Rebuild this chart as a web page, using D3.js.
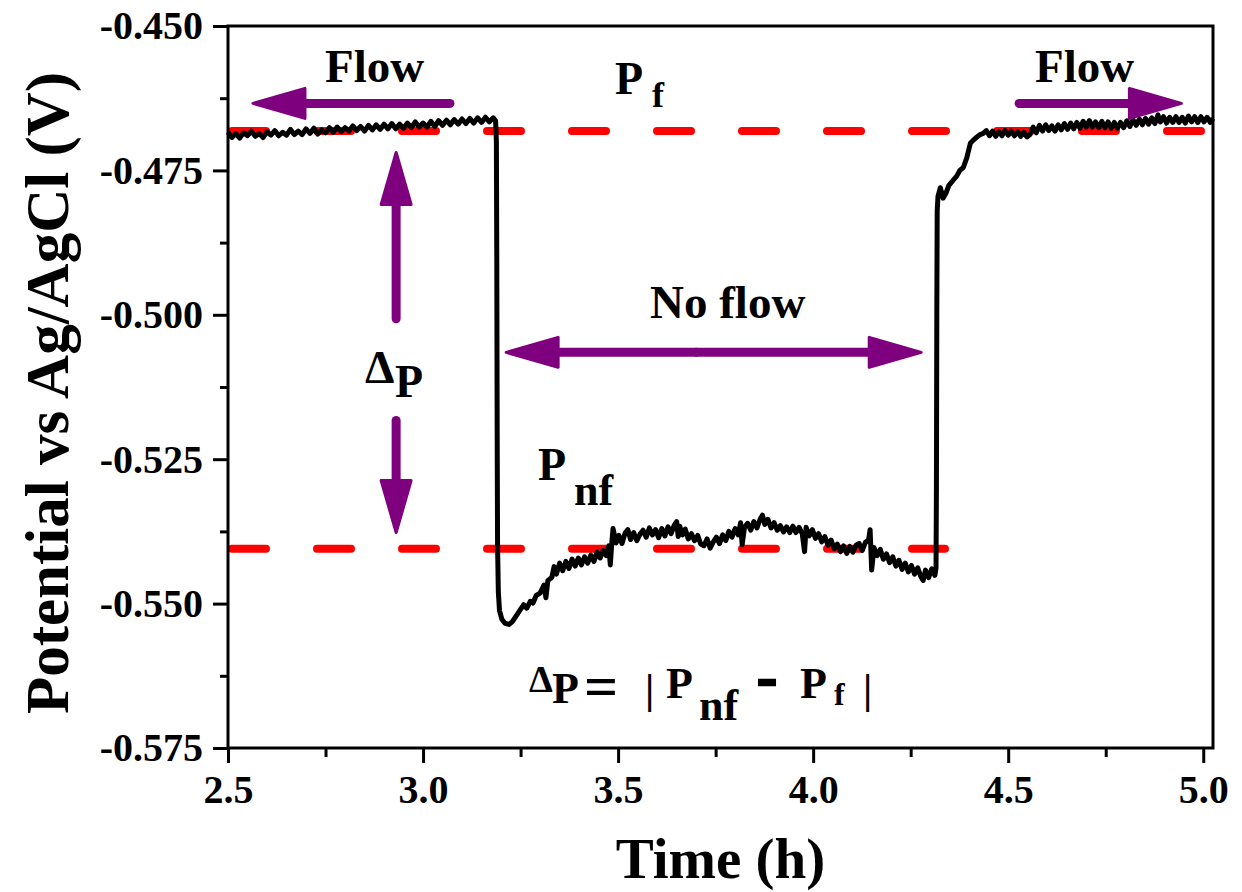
<!DOCTYPE html>
<html>
<head>
<meta charset="utf-8">
<script src="https://cdn.jsdelivr.net/npm/d3@7"></script>
<style>
  body { margin: 0; background: #fff; }
  svg { display: block; }
  text { font-family: "Liberation Serif", "Times New Roman", serif; font-weight: bold; fill: #000; }
</style>
</head>
<body>
<svg id="chart" width="1242" height="892"></svg>
<script>
// time (h) and potential (V)
const flowTime = [2.500,2.510,2.520,2.530,2.540,2.550,2.560,2.570,2.580,2.590,2.600,2.610,2.620,2.630,2.640,2.650,2.660,2.670,2.680,2.690,
  2.700,2.710,2.720,2.730,2.740,2.750,2.760,2.770,2.780,2.790,2.800,2.810,2.820,2.830,2.840,2.850,2.860,2.870,2.880,2.890,
  2.900,2.910,2.920,2.930,2.940,2.950,2.960,2.970,2.980,2.990,3.000,3.010,3.020,3.030,3.040,3.050,3.060,3.070,3.080,3.090,
  3.100,3.110,3.120,3.130,3.140,3.150,3.160,3.170,3.180,3.186];
const flowPotential = [-0.4684,-0.4693,-0.4686,-0.4694,-0.4685,-0.4690,-0.4682,-0.4691,-0.4686,-0.4693,-0.4683,-0.4689,-0.4681,-0.4690,-0.4684,-0.4689,-0.4679,-0.4688,-0.4682,-0.4688,
  -0.4678,-0.4686,-0.4677,-0.4687,-0.4680,-0.4685,-0.4676,-0.4684,-0.4675,-0.4683,-0.4676,-0.4682,-0.4673,-0.4681,-0.4674,-0.4682,-0.4672,-0.4680,-0.4671,-0.4679,
  -0.4670,-0.4678,-0.4669,-0.4678,-0.4670,-0.4677,-0.4668,-0.4676,-0.4666,-0.4675,-0.4668,-0.4675,-0.4665,-0.4674,-0.4664,-0.4672,-0.4663,-0.4671,-0.4662,-0.4670,
  -0.4661,-0.4669,-0.4660,-0.4668,-0.4659,-0.4667,-0.4658,-0.4666,-0.4659,-0.4664];

const noFlowTime = [3.188,3.189,3.190,3.191,3.193,3.196,3.202,3.210,3.220,3.228,3.238,3.249,3.258,3.266,3.275,3.282,3.290,
  3.300,3.310,3.315,3.320,3.330,3.336,3.342,3.350,3.358,3.366,3.374,3.382,3.390,3.398,3.406,3.414,3.422,3.430,3.438,3.446,
  3.454,3.462,3.470,3.476,3.480,3.484,3.487,3.495,3.502,3.510,3.518,3.525,3.532,3.540,3.548,3.556,3.564,3.572,3.580,3.588,
  3.596,3.604,3.612,3.620,3.628,3.636,3.644,3.650,3.654,3.658,3.665,3.672,3.680,3.688,3.696,3.704,3.712,3.720,3.728,3.736,
  3.744,3.752,3.760,3.768,3.776,3.784,3.792,3.800,3.808,3.814,3.818,3.824,3.832,3.840,3.848,3.856,3.864,3.870,3.876,3.884,
  3.892,3.900,3.908,3.916,3.924,3.932,3.940,3.948,3.956,3.964,3.972,3.978,3.982,3.990,3.998,4.006,4.014,4.022,4.030,4.038,
  4.046,4.054,4.062,4.070,4.078,4.086,4.094,4.102,4.110,4.118,4.126,4.134,4.142,4.146,4.150,4.156,4.164,4.172,4.180,4.188,
  4.196,4.204,4.212,4.220,4.228,4.236,4.244,4.252,4.260,4.268,4.276,4.282,4.288,4.296,4.304,4.312,4.315];
const noFlowPotential = [-0.4700,-0.4900,-0.5200,-0.5400,-0.5480,-0.5512,-0.5527,-0.5534,-0.5536,-0.5532,-0.5522,-0.5511,-0.5502,-0.5508,-0.5496,-0.5499,-0.5486,
  -0.5482,-0.5468,-0.5490,-0.5460,-0.5455,-0.5436,-0.5449,-0.5430,-0.5443,-0.5427,-0.5439,-0.5423,-0.5435,-0.5421,-0.5433,-0.5419,-0.5430,-0.5416,-0.5427,-0.5411,
  -0.5421,-0.5408,-0.5417,-0.5400,-0.5433,-0.5394,-0.5370,-0.5395,-0.5382,-0.5396,-0.5378,-0.5372,-0.5389,-0.5377,-0.5391,-0.5380,-0.5373,-0.5385,-0.5369,-0.5381,
  -0.5372,-0.5386,-0.5370,-0.5383,-0.5367,-0.5379,-0.5364,-0.5358,-0.5384,-0.5366,-0.5381,-0.5371,-0.5388,-0.5379,-0.5391,-0.5382,-0.5397,-0.5400,-0.5388,-0.5404,
  -0.5393,-0.5385,-0.5396,-0.5381,-0.5391,-0.5375,-0.5385,-0.5370,-0.5381,-0.5360,-0.5398,-0.5368,-0.5361,-0.5373,-0.5358,-0.5369,-0.5354,-0.5347,-0.5363,-0.5354,
  -0.5369,-0.5360,-0.5373,-0.5365,-0.5376,-0.5367,-0.5377,-0.5366,-0.5377,-0.5368,-0.5379,-0.5410,-0.5368,-0.5383,-0.5372,-0.5387,-0.5379,-0.5393,-0.5384,-0.5399,
  -0.5390,-0.5405,-0.5397,-0.5410,-0.5400,-0.5413,-0.5401,-0.5411,-0.5399,-0.5396,-0.5408,-0.5394,-0.5390,-0.5372,-0.5442,-0.5403,-0.5417,-0.5406,-0.5423,-0.5414,
  -0.5429,-0.5419,-0.5435,-0.5425,-0.5441,-0.5430,-0.5445,-0.5434,-0.5449,-0.5438,-0.5453,-0.5460,-0.5442,-0.5455,-0.5440,-0.5451,-0.5438];

const recoveryTime = [4.316,4.317,4.318,4.320,4.326,4.333,4.340,4.348,4.359,4.368,4.376,4.385,4.394,4.403,4.410,4.420,4.428,4.436,
  4.444,4.452,4.460,4.468,4.476,4.484,4.492,4.500,4.508,4.516,4.524,4.532,4.540,4.548,4.556,4.564,4.572,4.580,4.588,4.596,
  4.604,4.612,4.620,4.628,4.636,4.644,4.652,4.660,4.668,4.676,4.684,4.692,4.700,4.708,4.716,4.724,4.732,4.740,4.748,4.756,
  4.764,4.772,4.780,4.788,4.796,4.804,4.812,4.820,4.828,4.836,4.844,4.852,4.860,4.868,4.876,4.884,4.890,4.898,4.906,4.914,
  4.922,4.930,4.938,4.946,4.954,4.962,4.970,4.978,4.986,4.994,5.002,5.010,5.018,5.025];
const recoveryPotential = [-0.5300,-0.5000,-0.4820,-0.4795,-0.4780,-0.4798,-0.4790,-0.4776,-0.4767,-0.4760,-0.4750,-0.4745,-0.4728,-0.4703,-0.4698,-0.4692,-0.4688,-0.4686,
  -0.4681,-0.4690,-0.4682,-0.4691,-0.4683,-0.4690,-0.4681,-0.4689,-0.4682,-0.4690,-0.4683,-0.4691,-0.4684,-0.4692,-0.4688,-0.4675,-0.4685,-0.4672,-0.4682,-0.4671,
  -0.4681,-0.4673,-0.4682,-0.4671,-0.4680,-0.4669,-0.4679,-0.4668,-0.4678,-0.4667,-0.4677,-0.4665,-0.4675,-0.4664,-0.4675,-0.4666,-0.4676,-0.4665,-0.4676,-0.4666,
  -0.4677,-0.4667,-0.4677,-0.4667,-0.4676,-0.4664,-0.4674,-0.4662,-0.4672,-0.4661,-0.4671,-0.4660,-0.4670,-0.4659,-0.4669,-0.4654,-0.4666,-0.4657,-0.4668,-0.4658,
  -0.4667,-0.4657,-0.4667,-0.4658,-0.4668,-0.4656,-0.4666,-0.4657,-0.4667,-0.4657,-0.4666,-0.4658,-0.4667,-0.4660];

// reference levels
const pFlow = -0.4682;
const pNoFlow = -0.5405;
const pNoFlowEnd = 4.338;

const xTicks = [2.5, 3.0, 3.5, 4.0, 4.5, 5.0];
const yTicks = [-0.450, -0.475, -0.500, -0.525, -0.550, -0.575];

const margin = {top: 26, right: 29, bottom: 144, left: 228};
const width = 1242, height = 892;
const purple = "#7f007f";

const svg = d3.select("#chart");

const x = d3.scaleLinear().domain([2.5, 5.025]).range([margin.left, width - margin.right]);
const y = d3.scaleLinear().domain([-0.575, -0.450]).range([height - margin.bottom, margin.top]);

const trace = [];
[[flowTime, flowPotential], [noFlowTime, noFlowPotential], [recoveryTime, recoveryPotential]].forEach(function(seg) {
    seg[0].forEach(function(t, i) { trace.push([t, seg[1][i]]); });
});

// reference dashed lines
function refLine(level, tEnd) {
    svg.append("line")
        .attr("x1", x(2.5)).attr("x2", x(tEnd))
        .attr("y1", y(level)).attr("y2", y(level))
        .attr("stroke", "#ff0000").attr("stroke-width", 8)
        .attr("stroke-linecap", "round")
        .attr("stroke-dasharray", "34 51").attr("stroke-dashoffset", -4);
}
refLine(pFlow, 5.025);
refLine(pNoFlow, pNoFlowEnd);

// potential trace
svg.append("path")
    .datum(trace)
    .attr("fill", "none")
    .attr("stroke", "#000")
    .attr("stroke-width", 5)
    .attr("stroke-linejoin", "round")
    .attr("d", d3.line().x(d => x(d[0])).y(d => y(d[1])));

// axes
const yAxis = svg.append("g")
    .attr("transform", `translate(${margin.left},0)`)
    .call(d3.axisLeft(y).tickValues(yTicks).tickSize(15).tickSizeOuter(0).tickPadding(10).tickFormat(d => d.toFixed(3)));
svg.append("g")
    .attr("transform", `translate(${margin.left},0)`)
    .call(d3.axisLeft(y).tickValues(yTicks.slice(1).map(v => v + 0.0125)).tickSize(8).tickSizeOuter(0).tickFormat(""));
const xAxis = svg.append("g")
    .attr("transform", `translate(0,${height - margin.bottom})`)
    .call(d3.axisBottom(x).tickValues(xTicks).tickSize(15).tickSizeOuter(0).tickPadding(12).tickFormat(d3.format(".1f")));
svg.append("g")
    .attr("transform", `translate(0,${height - margin.bottom})`)
    .call(d3.axisBottom(x).tickValues(xTicks.slice(1).map(v => v - 0.25)).tickSize(9).tickSizeOuter(0).tickFormat(""));

svg.selectAll(".domain").remove();
svg.selectAll(".tick line").attr("stroke", "#000").attr("stroke-width", 3);
yAxis.selectAll("text").style("font-size", "40px");
xAxis.selectAll("text").style("font-size", "40px");

svg.append("rect")
    .attr("x", margin.left).attr("y", margin.top)
    .attr("width", width - margin.right - margin.left)
    .attr("height", height - margin.bottom - margin.top)
    .attr("fill", "none").attr("stroke", "#000").attr("stroke-width", 3);

svg.append("text")
    .attr("x", (margin.left + width - margin.right) / 2).attr("y", 878)
    .attr("text-anchor", "middle").style("font-size", "57px")
    .text("Time (h)");
svg.append("text")
    .attr("transform", `translate(68,${(margin.top + height - margin.bottom) / 2 + 6}) rotate(-90)`)
    .attr("text-anchor", "middle").style("font-size", "61px")
    .text("Potential vs Ag/AgCl (V)");

// arrows
function arrow(x1, y1, x2, y2) {
    const dx = x2 - x1, dy = y2 - y1, len = Math.hypot(dx, dy);
    const ux = dx / len, uy = dy / len, head = 52, half = 15;
    const bx = x2 - ux * head, by = y2 - uy * head;
    svg.append("line")
        .attr("x1", x1).attr("y1", y1).attr("x2", bx).attr("y2", by)
        .attr("stroke", purple).attr("stroke-width", 9).attr("stroke-linecap", "round");
    svg.append("path")
        .attr("d", `M${x2},${y2}L${bx - uy * half},${by + ux * half}L${bx + uy * half},${by - ux * half}Z`)
        .attr("fill", purple).attr("stroke", purple).attr("stroke-width", 3).attr("stroke-linejoin", "round");
}
arrow(x(3.069), y(-0.4634), x(2.564), y(-0.4634));
arrow(x(4.528), y(-0.4634), x(4.944), y(-0.4634));
arrow(x(3.70), y(-0.5065), x(3.213), y(-0.5065));
arrow(x(3.70), y(-0.5065), x(4.277), y(-0.5065));
arrow(x(2.931), y(-0.5007), x(2.931), y(-0.4719));
arrow(x(2.931), y(-0.5183), x(2.931), y(-0.5377));

// labels
function label(tx, ty, str, size) {
    return svg.append("text").attr("x", tx).attr("y", ty).style("font-size", size + "px").text(str);
}
label(325, 82, "Flow", 47);
label(1035, 82, "Flow", 47);
label(650, 318, "No flow", 47);
label(615, 94, "P", 46);
label(652, 107, "f", 36);
label(365, 383, "\u0394", 47);
label(395, 397, "P", 46);
label(538, 480, "P", 46);
label(574, 505, "nf", 44);
label(529, 692, "\u0394", 38);
label(552, 703, "P", 44);
label(584, 706, "=", 60);
label(645, 703, "|", 42);
label(666, 698, "P", 44);
label(699, 720, "nf", 44);
label(757, 696, "-", 60).attr("stroke", "#000").attr("stroke-width", 2.5);
label(800, 698, "P", 44);
label(834, 705, "f", 32);
label(863, 703, "|", 42);
</script>
</body>
</html>
